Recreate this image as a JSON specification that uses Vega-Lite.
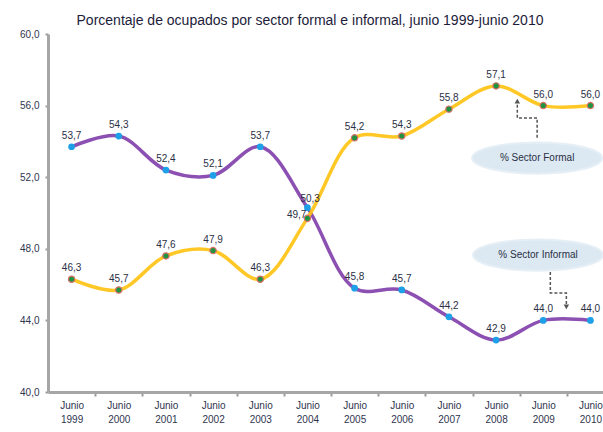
{
  "$schema": "https://vega.github.io/schema/vega-lite/v6.json",
  "autosize": {"type": "none"},
  "padding": {"left": 48, "top": 34, "right": 0, "bottom": 40},
  "width": 566,
  "height": 358,
  "background": "white",
  "config": {
    "view": {"stroke": null},
    "font": "Liberation Sans"
  },
  "title": {
    "text": "Porcentaje de ocupados  por sector formal e informal, junio 1999-junio 2010",
    "anchor": "middle",
    "dx": -21,
    "offset": 1,
    "fontSize": 14,
    "fontWeight": "normal",
    "color": "#1c1c3a",
    "font": "Liberation Sans"
  },
  "datasets": {
    "series": [
      {"year": 1999, "sector": "Informal", "value": 53.7},
      {"year": 2000, "sector": "Informal", "value": 54.3},
      {"year": 2001, "sector": "Informal", "value": 52.4},
      {"year": 2002, "sector": "Informal", "value": 52.1},
      {"year": 2003, "sector": "Informal", "value": 53.7},
      {"year": 2004, "sector": "Informal", "value": 50.3},
      {"year": 2005, "sector": "Informal", "value": 45.8},
      {"year": 2006, "sector": "Informal", "value": 45.7},
      {"year": 2007, "sector": "Informal", "value": 44.2},
      {"year": 2008, "sector": "Informal", "value": 42.9},
      {"year": 2009, "sector": "Informal", "value": 44.0},
      {"year": 2010, "sector": "Informal", "value": 44.0},
      {"year": 1999, "sector": "Formal", "value": 46.3},
      {"year": 2000, "sector": "Formal", "value": 45.7},
      {"year": 2001, "sector": "Formal", "value": 47.6},
      {"year": 2002, "sector": "Formal", "value": 47.9},
      {"year": 2003, "sector": "Formal", "value": 46.3},
      {"year": 2004, "sector": "Formal", "value": 49.7},
      {"year": 2005, "sector": "Formal", "value": 54.2},
      {"year": 2006, "sector": "Formal", "value": 54.3},
      {"year": 2007, "sector": "Formal", "value": 55.8},
      {"year": 2008, "sector": "Formal", "value": 57.1},
      {"year": 2009, "sector": "Formal", "value": 56.0},
      {"year": 2010, "sector": "Formal", "value": 56.0}
    ],
    "callouts": [
      {"label": "% Sector Formal", "year": 2008.87, "value": 53.07},
      {"label": "% Sector Informal", "year": 2008.89, "value": 47.65}
    ],
    "leaders": [
      {"id": "f", "o": 1, "year": 2008.87, "value": 54.2},
      {"id": "f", "o": 2, "year": 2008.87, "value": 55.31},
      {"id": "f", "o": 3, "year": 2008.45, "value": 55.31},
      {"id": "f", "o": 4, "year": 2008.45, "value": 56.2},
      {"id": "i", "o": 1, "year": 2009.15, "value": 46.7},
      {"id": "i", "o": 2, "year": 2009.15, "value": 45.53},
      {"id": "i", "o": 3, "year": 2009.49, "value": 45.53},
      {"id": "i", "o": 4, "year": 2009.49, "value": 44.8}
    ],
    "heads": [
      {"id": "f", "dir": "up", "year": 2008.45, "value": 56.25},
      {"id": "i", "dir": "down", "year": 2009.49, "value": 44.75}
    ]
  },
  "encoding": {
    "x": {
      "field": "year",
      "type": "quantitative",
      "scale": {"domain": [1998.5, 2010.5], "nice": false, "zero": false},
      "axis": {
        "title": null,
        "values": [1999, 2000, 2001, 2002, 2003, 2004, 2005, 2006, 2007, 2008, 2009, 2010],
        "labelExpr": "['Junio', format(datum.value, 'd')]",
        "labelFontSize": 10,
        "labelColor": "#2f3550",
        "labelLineHeight": 14,
        "labelPadding": 4,
        "labelFlush": false,
        "labelOverlap": false,
        "tickOffset": 23.6,
        "labelOffset": -23.6,
        "tickSize": 4,
        "tickColor": "#9a9a9a",
        "tickWidth": 2,
        "domainColor": "#a6a6a6",
        "domainWidth": 3,
        "grid": false
      }
    },
    "y": {
      "field": "value",
      "type": "quantitative",
      "scale": {"domain": [40, 60], "nice": false, "zero": false},
      "axis": {
        "title": null,
        "values": [40, 44, 48, 52, 56, 60],
        "labelExpr": "replace(format(datum.value, '.1f'), '.', ',')",
        "labelFontSize": 10,
        "labelColor": "#2f3550",
        "labelPadding": 6,
        "tickSize": 3,
        "tickColor": "#9a9a9a",
        "tickWidth": 2,
        "domainColor": "#a6a6a6",
        "domainWidth": 3,
        "grid": false
      }
    }
  },
  "layer": [
    {
      "data": {"name": "series"},
      "mark": {"type": "line", "interpolate": "catmull-rom", "strokeWidth": 3.5, "opacity": 0.9},
      "encoding": {
        "color": {
          "field": "sector",
          "type": "nominal",
          "scale": {"domain": ["Formal", "Informal"], "range": ["#FFC20E", "#7E3DAA"]},
          "legend": null
        }
      }
    },
    {
      "data": {"name": "series"},
      "transform": [{"filter": "datum.sector == 'Informal'"}],
      "mark": {"type": "point", "filled": true, "size": 45, "color": "#1EA0E8", "opacity": 1}
    },
    {
      "data": {"name": "series"},
      "transform": [{"filter": "datum.sector == 'Formal'"}],
      "mark": {"type": "point", "filled": true, "size": 40, "fill": "#1E9440", "stroke": "#D9706A", "strokeWidth": 1.2, "opacity": 1}
    },
    {
      "data": {"name": "series"},
      "transform": [
        {"filter": "datum.year != 2004"},
        {"calculate": "replace(format(datum.value, '.1f'), '.', ',')", "as": "lab"}
      ],
      "mark": {"type": "text", "dy": -11, "fontSize": 10, "color": "#2a2f45"},
      "encoding": {"text": {"field": "lab"}}
    },
    {
      "data": {"name": "series"},
      "transform": [
        {"filter": "datum.year == 2004 && datum.sector == 'Formal'"},
        {"calculate": "replace(format(datum.value, '.1f'), '.', ',')", "as": "lab"}
      ],
      "mark": {"type": "text", "align": "right", "dx": -1, "dy": -3, "fontSize": 10, "color": "#2a2f45"},
      "encoding": {"text": {"field": "lab"}}
    },
    {
      "data": {"name": "series"},
      "transform": [
        {"filter": "datum.year == 2004 && datum.sector == 'Informal'"},
        {"calculate": "replace(format(datum.value, '.1f'), '.', ',')", "as": "lab"}
      ],
      "mark": {"type": "text", "align": "left", "dx": -7, "dy": -9, "fontSize": 10, "color": "#2a2f45"},
      "encoding": {"text": {"field": "lab"}}
    },
    {
      "data": {"name": "callouts"},
      "mark": {
        "type": "point",
        "shape": "M-1,0C-1,-0.1326,-0.5523,-0.24,0,-0.24C0.5523,-0.24,1,-0.1326,1,0C1,0.1326,0.5523,0.24,0,0.24C-0.5523,0.24,-1,0.1326,-1,0Z",
        "size": 16900,
        "filled": true,
        "fill": "#DCE9F2",
        "stroke": "#E6EFF5",
        "strokeWidth": 2,
        "opacity": 1
      }
    },
    {
      "data": {"name": "callouts"},
      "mark": {"type": "text", "fontSize": 10, "color": "#2a2f45"},
      "encoding": {"text": {"field": "label"}}
    },
    {
      "data": {"name": "leaders"},
      "mark": {"type": "line", "strokeDash": [3, 2], "strokeWidth": 1.5, "color": "#555555"},
      "encoding": {
        "detail": {"field": "id"},
        "order": {"field": "o", "type": "quantitative"}
      }
    },
    {
      "data": {"name": "heads"},
      "mark": {"type": "point", "filled": true, "size": 30, "color": "#555555", "opacity": 1},
      "encoding": {
        "shape": {
          "field": "dir",
          "type": "nominal",
          "scale": {"domain": ["up", "down"], "range": ["triangle-up", "triangle-down"]},
          "legend": null
        }
      }
    }
  ]
}
